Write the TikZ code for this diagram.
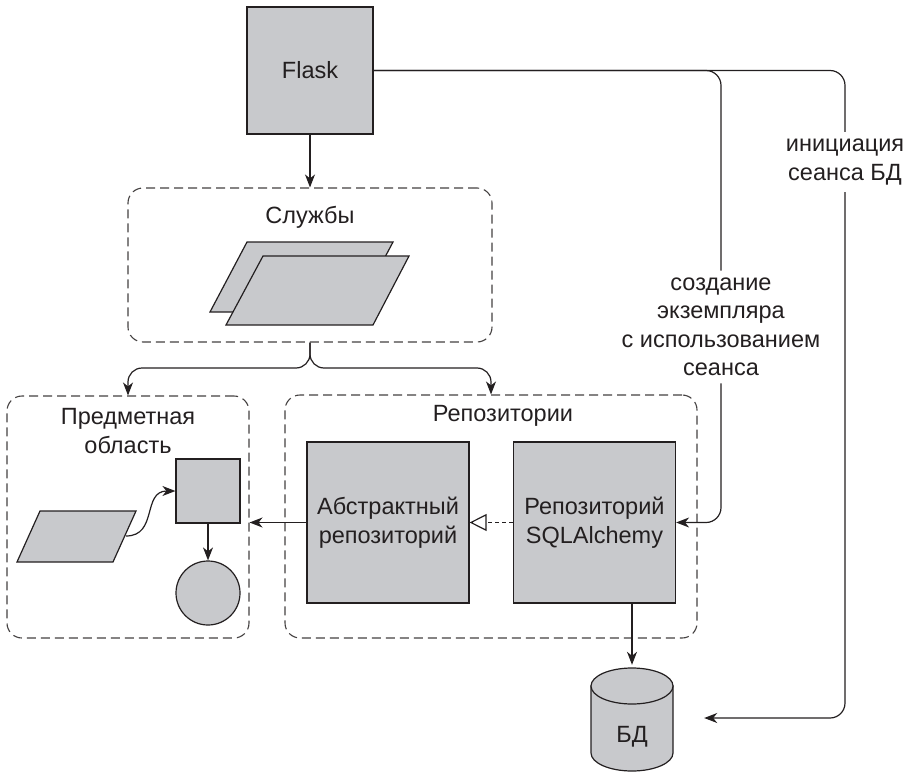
\documentclass[tikz,border=0pt]{standalone}
\usepackage{fontspec}
\setmainfont{Liberation Sans}
\usetikzlibrary{positioning, arrows.meta}

\definecolor{boxgray}{RGB}{200,201,204}
\definecolor{ink}{RGB}{35,31,32}

\tikzset{
  block/.style={draw=ink, fill=boxgray, line width=1.2pt, inner sep=0pt},
  zone/.style={draw=ink!85, line width=1.1pt, dash pattern=on 9pt off 5pt, rounded corners=15pt},
  wire/.style={draw=ink, line width=1.2pt},
  link/.style={wire, -{Stealth[length=13pt, width=10pt, inset=4pt]}},
  note/.style={align=center, inner sep=7pt}
}

\begin{document}
\begin{tikzpicture}[x=1pt, y=-1pt, node distance=20pt, on grid,
    font=\fontsize{23.5}{28.5}\selectfont, text=ink]
    \useasboundingbox (0,0) rectangle (910,773);

    \node[block, minimum width=126pt, minimum height=127pt] (flask) at (310,70.5) {Flask};

    % services
    \node[zone, minimum width=364pt, minimum height=154pt] (svcbox) at (310,265) {};
    \node (svctitle) at (310,217) {Службы};
    \draw[block] (210,312) -- (247,242) -- (393,242) -- (356,312) -- cycle;
    \draw[block] (226,325) -- (263,256) -- (409,256) -- (373,325) -- cycle;

    % domain
    \node[zone, minimum width=242pt, minimum height=242pt] (dombox) at (128,517) {};
    \node[align=center] (domtitle) at (128,431) {Предметная\\область};
    \node[block, minimum size=64pt] (entity) at (208,491) {};
    \node[block, circle, minimum size=64pt] (valueobj) [below=102pt of entity] {};
    \draw[block] (17,562) -- (40,511) -- (136,511) -- (113,562) -- cycle;
    \coordinate (cmdout) at (126,536);

    % repositories
    \node[zone, minimum width=412pt, minimum height=243pt] (repobox) at (491,516.5) {};
    \node (repotitle) at (503,416) {Репозитории};
    \node[block, minimum width=162pt, minimum height=161pt, align=center] (absrepo) at (388,522.5) {Абстрактный\\репозиторий};
    \node[block, minimum width=162pt, minimum height=161pt, align=center] (sqlrepo) [right=206.5pt of absrepo] {Репозиторий\\SQLAlchemy};

    % database
    \draw[block] (591,686) -- (591,753) arc[start angle=180, end angle=0, x radius=41, y radius=18] -- (673,686) -- cycle;
    \draw[block] (632,686) ellipse [x radius=41, y radius=18];
    \node[minimum width=82pt, minimum height=106pt, inner sep=0pt] (db) at (632,718) {};
    \node (dbtext) at (632,737) {БД};

    % labels on the long connectors
    \node[note] (lblcreate) at (721,327) {создание\\экземпляра\\с использованием\\сеанса};
    \node[note] (lbldb) at (845,162) {инициация\\сеанса БД};

    \coordinate (fork) at (310,368);
    \draw[link] (flask) -- (svcbox);
    \draw[link, rounded corners=14pt] (svcbox.south) -- (fork) -| (dombox.north);
    \draw[link, rounded corners=14pt] (svcbox.south) -- (fork) -| (repobox.north);
    \draw[link] (cmdout) .. controls (158,536) and (142,491) .. (entity.west);
    \draw[link] (entity) -- (valueobj);
    \draw[link] (absrepo.west) -- (absrepo.west -| dombox.east);
    \draw[link, dash pattern=on 4pt off 3pt, -{Triangle[open, fill=white, length=17pt, width=17pt]}] (sqlrepo) -- (absrepo);
    \draw[link] (sqlrepo.south -| db.north) -- (db.north);
    \draw[wire, rounded corners=15pt] (flask.east) -| (lblcreate.north);
    \draw[link, rounded corners=15pt] (lblcreate.south) |- (sqlrepo.east);
    \draw[wire, rounded corners=15pt] (flask.east) -| (lbldb.north);
    \draw[link, rounded corners=15pt, shorten >=31pt] (lbldb.south) |- (db.east);
\end{tikzpicture}
\end{document}
